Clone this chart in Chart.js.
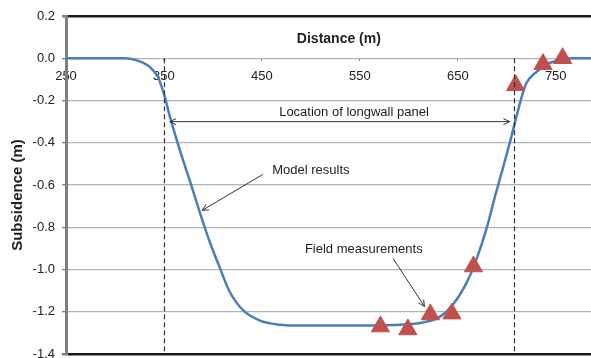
<!DOCTYPE html>
<html>
<head>
<meta charset="utf-8">
<script src="https://cdn.jsdelivr.net/npm/chart.js@4/dist/chart.umd.min.js"></script>
<style>
  html, body { margin: 0; padding: 0; background: #fff; }
  #wrap { width: 591px; height: 358px; }
</style>
</head>
<body>
<div id="wrap"><canvas id="subsidence"></canvas></div>
<script>
// model profile (distance in m, subsidence in m)
const modelDist = [250, 285, 310, 318, 328, 336, 344, 351, 356, 366, 377, 387, 397, 407, 417, 431, 448, 468, 489, 540, 591, 614, 632, 645, 659, 669, 680, 688, 696, 704, 711, 716, 720, 731, 741, 754, 767, 786];
const modelSub = [0, 0, 0, -0.005, -0.019, -0.043, -0.09, -0.185, -0.275, -0.431, -0.588, -0.735, -0.872, -0.991, -1.104, -1.194, -1.242, -1.261, -1.265, -1.265, -1.261, -1.251, -1.223, -1.166, -1.062, -0.953, -0.796, -0.654, -0.521, -0.384, -0.256, -0.171, -0.118, -0.062, -0.028, -0.009, 0, 0];

// surveyed points
const fieldDist = [571, 599, 622, 644, 666, 709, 737, 757];
const fieldSub = [-1.27, -1.284, -1.213, -1.209, -0.986, -0.128, -0.028, 0.0];

const xTicks = [250, 350, 450, 550, 650, 750];
const yTicks = [0.2, 0.0, -0.2, -0.4, -0.6, -0.8, -1.0, -1.2, -1.4];

// panel edges
const panelStart = 350;
const panelEnd = 707;

const toPoints = (xs, ys) => xs.map((x, i) => ({ x: x, y: ys[i] }));

function arrowHead(ctx, x1, y1, x2, y2, len) {
  const a = Math.atan2(y2 - y1, x2 - x1);
  ctx.beginPath();
  ctx.moveTo(x2 - len * Math.cos(a - 0.45), y2 - len * Math.sin(a - 0.45));
  ctx.lineTo(x2, y2);
  ctx.lineTo(x2 - len * Math.cos(a + 0.45), y2 - len * Math.sin(a + 0.45));
  ctx.stroke();
}

function arrow(ctx, x1, y1, x2, y2, both) {
  ctx.beginPath();
  ctx.moveTo(x1, y1);
  ctx.lineTo(x2, y2);
  ctx.stroke();
  arrowHead(ctx, x1, y1, x2, y2, 7);
  if (both) arrowHead(ctx, x2, y2, x1, y1, 7);
}

const notes = {
  id: "notes",
  afterDatasetsDraw(chart) {
    const ctx = chart.ctx;
    const xs = chart.scales.x, ys = chart.scales.y;
    const px = v => xs.getPixelForValue(v);
    const py = v => ys.getPixelForValue(v);
    ctx.save();

    // dashed panel edges
    ctx.strokeStyle = "#333";
    ctx.lineWidth = 1.2;
    ctx.setLineDash([5, 3]);
    [panelStart, panelEnd].forEach(d => {
      ctx.beginPath();
      ctx.moveTo(Math.round(px(d)) + 0.5, py(0));
      ctx.lineTo(Math.round(px(d)) + 0.5, py(-1.4));
      ctx.stroke();
    });
    ctx.setLineDash([]);

    ctx.strokeStyle = "#333";
    ctx.lineWidth = 1;
    arrow(ctx, px(356), py(-0.3), px(703), py(-0.3), true);
    arrow(ctx, px(451), py(-0.55), px(389), py(-0.72), false);
    arrow(ctx, px(584), py(-0.948), px(616), py(-1.175), false);

    ctx.fillStyle = "#222";
    ctx.font = "13px 'Liberation Sans', Arial, sans-serif";
    ctx.textAlign = "center";
    ctx.textBaseline = "middle";
    ctx.fillText("Location of longwall panel", px(544), py(-0.256));
    ctx.fillText("Model results", px(500), py(-0.531));
    ctx.fillText("Field measurements", px(554), py(-0.905));

    ctx.font = "bold 14px 'Liberation Sans', Arial, sans-serif";
    ctx.fillText("Distance (m)", px(528.6), py(0.09));

    ctx.translate(18, 195);
    ctx.rotate(-Math.PI / 2);
    ctx.font = "bold 15px 'Liberation Sans', Arial, sans-serif";
    ctx.fillText("Subsidence (m)", 0, 0);
    ctx.restore();
  }
};

new Chart(document.getElementById("subsidence"), {
  type: "scatter",
  data: {
    datasets: [
      {
        label: "Field measurements",
        data: toPoints(fieldDist, fieldSub),
        pointStyle: "triangle",
        pointRadius: 10.5,
        backgroundColor: "#c0504d",
        borderColor: "#c0504d",
        borderWidth: 1,
        order: 0
      },
      {
        label: "Model results",
        data: toPoints(modelDist, modelSub),
        showLine: true,
        cubicInterpolationMode: "monotone",
        borderColor: "#4a7ebb",
        borderWidth: 2.5,
        pointRadius: 0,
        order: 1
      }
    ]
  },
  plugins: [notes],
  options: {
    responsive: true,
    maintainAspectRatio: false,
    animation: false,
    layout: { autoPadding: false, padding: { top: 16, bottom: 4, left: 0, right: 0 } },
    plugins: {
      legend: { display: false },
      tooltip: { enabled: false }
    },
    scales: {
      x: {
        type: "linear",
        position: { y: 0 },
        min: 250,
        max: 786,
        afterBuildTicks: s => { s.ticks = xTicks.map(v => ({ value: v })); },
        afterFit: s => { s.paddingLeft = 0; s.paddingRight = 0; },
        border: { display: false },
        grid: { display: true, drawOnChartArea: false, tickLength: 3, color: "#888" },
        ticks: {
          padding: 7,
          color: "#222",
          font: { family: "'Liberation Sans', Arial, sans-serif", size: 13 }
        }
      },
      y: {
        min: -1.4,
        max: 0.2,
        afterBuildTicks: s => { s.ticks = yTicks.map(v => ({ value: v })); },
        afterFit: s => { s.width = 66; s.paddingTop = 0; s.paddingBottom = 0; },
        border: { display: true, color: "#7f7f7f", width: 3 },
        grid: {
          color: c => (c.tick && (c.tick.value === 0.2 || c.tick.value === -1.4)) ? "#1a1a1a" : "#b3b3b3",
          lineWidth: c => (c.tick && (c.tick.value === 0.2 || c.tick.value === -1.4)) ? 2.5 : 1.3,
          tickColor: "#7f7f7f",
          tickLength: 4
        },
        ticks: {
          padding: 7,
          color: "#222",
          font: { family: "'Liberation Sans', Arial, sans-serif", size: 13 },
          callback: v => (Math.abs(v) < 1e-9 ? 0 : v).toFixed(1)
        }
      }
    }
  }
});
</script>
</body>
</html>
